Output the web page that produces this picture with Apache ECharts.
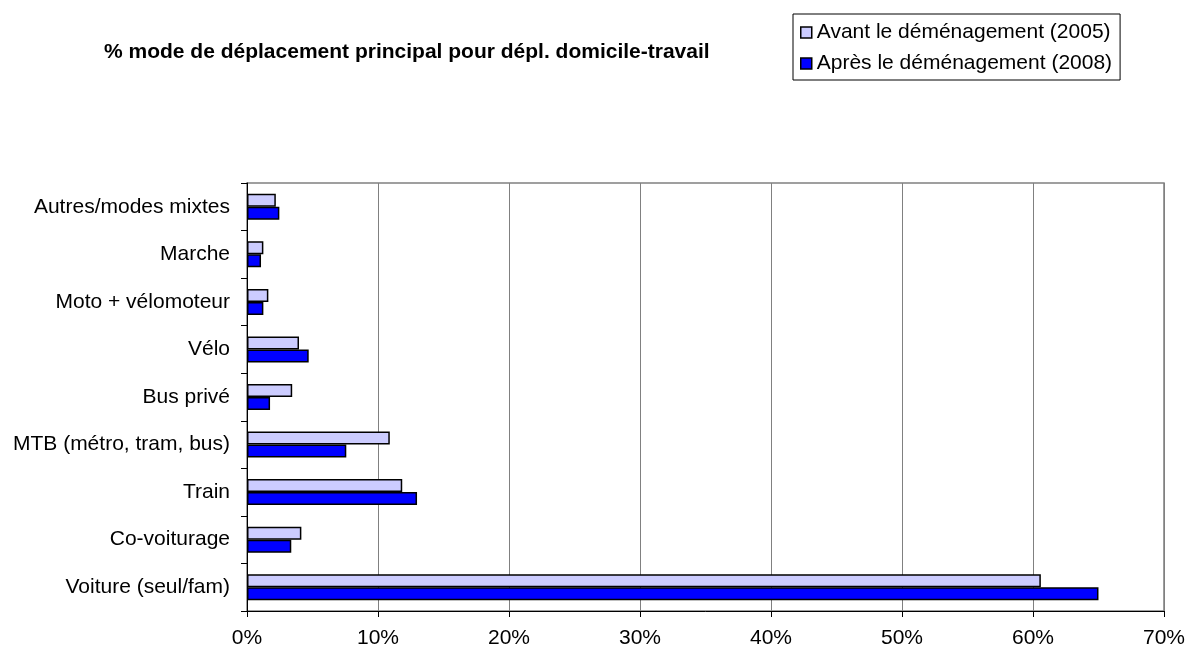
<!DOCTYPE html>
<html>
<head>
<meta charset="utf-8">
<script src="https://cdn.jsdelivr.net/npm/echarts@6/dist/echarts.min.js"></script>
<style>html,body{margin:0;padding:0;background:#fff;}#c{width:1188px;height:651px;}</style>
</head>
<body>
<div id="c"></div>
<script>
// Categories listed bottom -> top
const categories = ['Voiture (seul/fam)', 'Co-voiturage', 'Train', 'MTB (métro, tram, bus)', 'Bus privé', 'Vélo', 'Moto + vélomoteur', 'Marche', 'Autres/modes mixtes'];
const avant2005 = [60.6, 4.15, 11.85, 10.9, 3.45, 3.97, 1.63, 1.25, 2.2];
const apres2008 = [65.0, 3.38, 12.98, 7.58, 1.76, 4.71, 1.25, 1.07, 2.47];
const seriesNames = ['Avant le déménagement (2005)', 'Après le déménagement (2008)'];
const xTicks = [0, 10, 20, 30, 40, 50, 60, 70];
const titleText = '% mode de déplacement principal pour dépl. domicile-travail';

const FONT = 'Liberation Sans, Arial, sans-serif';
const chart = echarts.init(document.getElementById('c'), null, {renderer: 'canvas'});
chart.setOption({
  animation: false,
  backgroundColor: '#ffffff',
  title: {
    text: titleText,
    left: 99, top: 36,
    textStyle: {fontFamily: FONT, fontSize: 21, fontWeight: 'bold', color: '#000', lineHeight: 22}
  },
  legend: {
    data: seriesNames,
    orient: 'vertical',
    left: 793, top: 14,
    backgroundColor: '#fff',
    borderColor: '#000', borderWidth: 1,
    padding: [8, 8, 6, 7],
    itemGap: 10,
    itemWidth: 11, itemHeight: 11,
    icon: 'rect',
    itemStyle: {borderColor: '#000', borderWidth: 1.5},
    textStyle: {fontFamily: FONT, fontSize: 21, color: '#000', lineHeight: 21, padding: [0, 0, 0, 0]}
  },
  grid: {
    left: 247, right: 22, top: 183, bottom: 40,
    show: true, borderColor: '#808080', borderWidth: 1.5,
    containLabel: false
  },
  xAxis: {
    type: 'value',
    min: xTicks[0], max: xTicks[xTicks.length - 1], interval: 10,
    axisLine: {show: true, lineStyle: {color: '#000', width: 1}},
    axisTick: {show: true, length: 6, lineStyle: {color: '#000'}},
    axisLabel: {fontFamily: FONT, fontSize: 21, color: '#000', margin: 17, formatter: v => v + '%'},
    splitLine: {show: true, lineStyle: {color: '#808080', width: 1}}
  },
  yAxis: {
    type: 'category',
    data: categories,
    axisLine: {show: true, lineStyle: {color: '#000', width: 1}},
    axisTick: {show: true, length: 6, alignWithLabel: false, lineStyle: {color: '#000'}},
    axisLabel: {fontFamily: FONT, fontSize: 21, color: '#000', margin: 17}
  },
  series: [
    {
      name: seriesNames[0], type: 'bar', data: avant2005,
      barWidth: 13, barGap: '0%',
      itemStyle: {color: '#CCCCFF', borderColor: '#000', borderWidth: 1.5}
    },
    {
      name: seriesNames[1], type: 'bar', data: apres2008,
      barWidth: 13, barGap: '0%',
      itemStyle: {color: '#0000FF', borderColor: '#000', borderWidth: 1.5}
    }
  ]
});
</script>
</body>
</html>
